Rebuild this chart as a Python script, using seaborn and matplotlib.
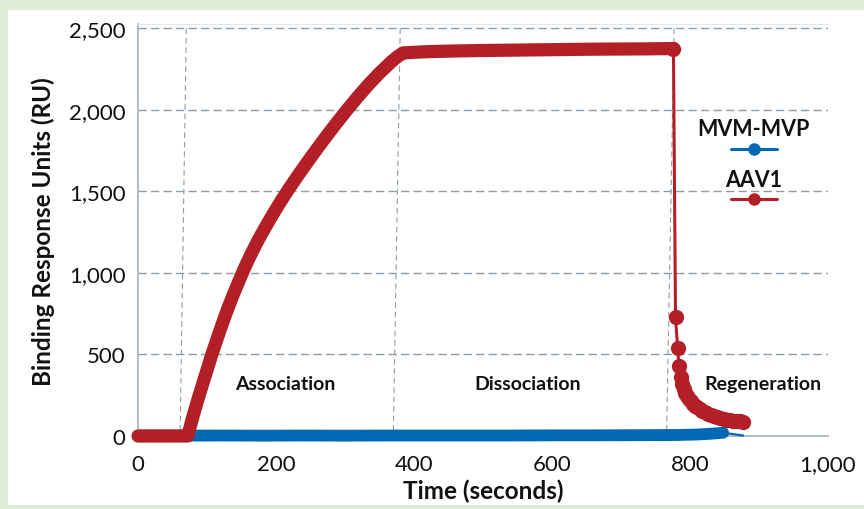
import matplotlib
matplotlib.use("Agg")
import matplotlib.pyplot as plt
import seaborn as sns
from matplotlib.lines import Line2D
from matplotlib.patches import Rectangle
from matplotlib.ticker import MultipleLocator, FuncFormatter

# AAV1 trace: baseline, association and dissociation (dense sampling)
aav1_time = [0, 9, 18, 27, 36, 45, 54, 63, 72, 80, 87, 94, 101, 107, 114, 120, 126,
             132, 138, 144, 150, 158, 166, 175, 185, 196, 207, 218, 230, 245, 259,
             272, 287, 302, 318, 335, 351, 367, 376, 384, 420, 460, 500, 540, 580,
             620, 660, 700, 740, 776]
aav1_resp = [0, 0, 0, 0, 0, 0, 0, 0, 0, 125, 227, 323, 418, 500, 588, 662, 734,
             802, 866, 928, 988, 1064, 1134, 1208, 1284, 1364, 1440, 1512, 1587,
             1677, 1759, 1833, 1916, 1996, 2078, 2160, 2231, 2295, 2327, 2350, 2358,
             2362, 2365, 2367, 2369, 2371, 2373, 2374, 2375, 2377]

# AAV1 trace: regeneration
aav1_regen_time = [776, 779, 782, 784, 787, 789, 791, 793, 795, 798, 801, 804, 807,
                   810, 814, 818, 822, 826, 830, 835, 839, 844, 849, 854, 858, 863,
                   868, 872, 877]
aav1_regen_resp = [2377, 730, 540, 430, 360, 320, 290, 266, 247, 228, 212, 198, 186,
                   176, 166, 155, 145, 136, 128, 121, 115, 109, 104, 100, 96, 93,
                   91, 89, 88]

# MVM-MVP trace
mvm_time = [0, 60, 120, 180, 240, 300, 360, 420, 480, 540, 600, 660, 720, 780, 810,
            830, 848]
mvm_resp = [2, 2, 3, 2, 3, 2, 3, 3, 3, 3, 4, 4, 5, 6, 9, 14, 20]
mvm_tail_time = [848, 877]
mvm_tail_resp = [20, 3]

# phase boundary markers (slightly slanted in the original)
phase_top = [70, 380, 777]
phase_bottom = [61, 370, 766]
phase_labels = ["Association", "Dissociation", "Regeneration"]
phase_label_x = [213, 565, 906]

red = "#b31f27"
blue = "#0068b4"
grid_col = "#8d9ca6"
spine_col = "#adb8c0"

sns.set_theme(style="white")
plt.rcParams["font.family"] = ["Lato", "DejaVu Sans"]

fig = plt.figure(figsize=(8.64, 5.10), dpi=100)
fig.patch.set_facecolor("#dfedd7")
fig.patches.append(Rectangle((8 / 864, 4 / 510), 1 - 8 / 864, 495 / 510,
                             transform=fig.transFigure, facecolor="white",
                             edgecolor="none", zorder=-5))

ax = fig.add_axes([138 / 864, 73 / 510, 690 / 864, 411.6 / 510])
ax.set_zorder(1)
ax.set_facecolor("white")

# phase boundaries
for xt, xb in zip(phase_top, phase_bottom):
    ax.plot([xt, xb], [2500, 0], color=grid_col, lw=0.8,
            linestyle=(0, (5, 3.5)), zorder=1)

ax.grid(True, axis="y", color=grid_col, linewidth=1.0, linestyle=(0, (6, 3)))
ax.set_axisbelow(True)

# MVM-MVP
sns.lineplot(x=mvm_time, y=mvm_resp, ax=ax, color=blue, linewidth=8.5,
             solid_capstyle="round", solid_joinstyle="round", clip_on=False,
             zorder=3, sort=False, estimator=None)
sns.lineplot(x=mvm_tail_time, y=mvm_tail_resp, ax=ax, color=blue, linewidth=1.6,
             clip_on=False, zorder=3, sort=False, estimator=None)

# AAV1
sns.lineplot(x=aav1_time, y=aav1_resp, ax=ax, color=red, linewidth=9.5,
             solid_capstyle="round", solid_joinstyle="round", clip_on=False,
             zorder=4, sort=False, estimator=None)
sns.lineplot(x=aav1_regen_time, y=aav1_regen_resp, ax=ax, color=red, linewidth=2.2,
             marker="o", markersize=11, markeredgewidth=0, clip_on=False,
             zorder=4, sort=False, estimator=None)

for lbl, lx in zip(phase_labels, phase_label_x):
    ax.text(lx, 325, lbl, ha="center", va="center", fontsize=14,
            fontweight="bold", color="#111111", zorder=5)

# legend drawn as label above its key
legend_items = [("MVM-MVP", blue, 0.746, 0.697), ("AAV1", red, 0.624, 0.576)]
for name, col, ty, ly in legend_items:
    ax.text(0.892, ty, name, transform=ax.transAxes, ha="center", va="center",
            fontsize=15.5, fontweight="bold", color="#111111")
    ax.add_line(Line2D([0.859, 0.893, 0.926], [ly, ly, ly], transform=ax.transAxes,
                       color=col, lw=2.2, marker="o", markersize=9,
                       markevery=[1], markeredgewidth=0, clip_on=False))

ax.set_xlim(0, 1000)
ax.set_ylim(0, 2525)
ax.xaxis.set_major_locator(MultipleLocator(200))
ax.xaxis.set_minor_locator(MultipleLocator(40))
ax.yaxis.set_major_locator(MultipleLocator(500))
fmt = FuncFormatter(lambda v, p: f"{v:,.0f}")
ax.xaxis.set_major_formatter(fmt)
ax.yaxis.set_major_formatter(fmt)

ax.tick_params(axis="x", which="major", direction="inout", length=12, width=1.2,
               color=spine_col, labelsize=16, pad=7, labelcolor="#111111")
ax.tick_params(axis="x", which="minor", direction="in", length=5, width=1.2,
               color=spine_col)
ax.tick_params(axis="y", length=0, labelsize=16, pad=9, labelcolor="#111111")

for side in ["left", "bottom"]:
    ax.spines[side].set_color(spine_col)
    ax.spines[side].set_linewidth(1.3)
ax.spines["top"].set_color("#e4e8eb")
ax.spines["top"].set_linewidth(1.0)
ax.spines["right"].set_visible(False)

ax.set_xlabel("Time (seconds)", fontsize=17.5, fontweight="bold", color="#111111",
              labelpad=3)
ax.set_ylabel("Binding Response Units (RU)", fontsize=17.5, fontweight="bold",
              color="#111111", labelpad=10)

fig.savefig("out.png", dpi=100, facecolor=fig.get_facecolor())
